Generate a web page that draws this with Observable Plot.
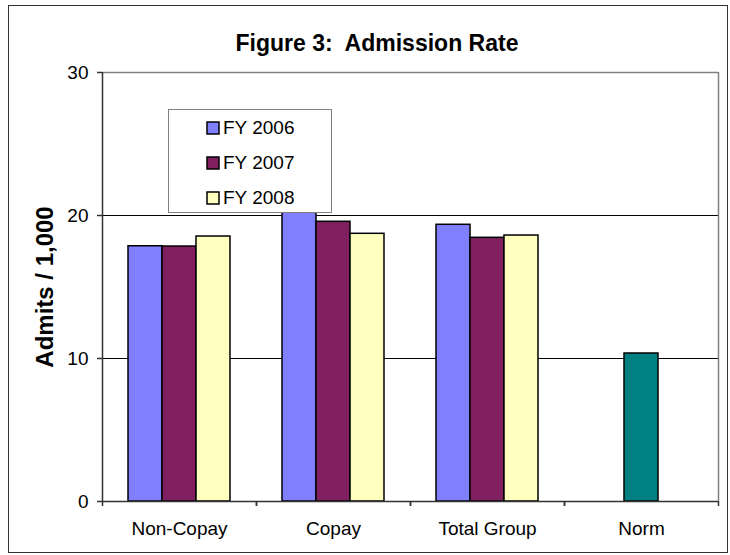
<!DOCTYPE html>
<html>
<head>
<meta charset="utf-8">
<script src="https://cdn.jsdelivr.net/npm/d3@7"></script>
<script src="https://cdn.jsdelivr.net/npm/@observablehq/plot@0.6"></script>
<style>
  html, body { margin: 0; padding: 0; background: #fff; }
  #chart { position: relative; width: 730px; height: 555px; background: #fff;
           font-family: "Liberation Sans", Arial, sans-serif; color: #000; }
  #plot { position: absolute; left: 0; top: 0; }
  #border { position: absolute; left: 8px; top: 5px; width: 720px; height: 548px;
            border: 1.5px solid #333; box-sizing: border-box; pointer-events: none; }
  #title { position: absolute; left: 377px; top: 32px; transform: translateX(-50%);
           font-weight: bold; font-size: 23px; line-height: 23px; white-space: nowrap; }
  #legend { position: absolute; left: 168px; top: 109px; width: 164px; height: 104px;
            border: 1px solid #808080; background: #fff; box-sizing: border-box;
            padding-left: 38px; }
  #legend .lg-swatches { margin: 0 !important; }
  #legend .lg-swatch { height: 35px; padding: 0 !important; margin: 0 !important; display: flex; align-items: center; }
  #legend .lg-swatch > svg { margin-right: 4px !important; overflow: visible; }
  #legend .lg-swatch svg rect { stroke: #000; stroke-width: 1.5px; }
  #plot g[aria-label="y-axis label"] text { font-weight: bold; font-size: 24px; }
</style>
</head>
<body>
<div id="chart">
  <div id="plot"></div>
  <div id="title">Figure 3:&nbsp; Admission Rate</div>
  <div id="legend"></div>
  <div id="border"></div>
</div>
<script>
// ---- data ----
const groupCategories = ["Non-Copay", "Copay", "Total Group"];
const normCategory = "Norm";
const categories = [...groupCategories, normCategory];
const series = ["FY 2006", "FY 2007", "FY 2008"];
const fy2006 = [17.85, 20.3, 19.35];
const fy2007 = [17.83, 19.56, 18.44];
const fy2008 = [18.53, 18.72, 18.60];
const normValue = 10.35;
const yTicks = [0, 10, 20, 30];
const yTitle = "Admits / 1,000";

// ---- styles ----
const seriesFill = ["#8080FF", "#802060", "#FFFFC0"];
const normFill = "#008080";
const font = "'Liberation Sans', Arial, sans-serif";

// ---- table ----
const seriesValues = [fy2006, fy2007, fy2008];
const rows = [];
groupCategories.forEach((c, i) => {
  series.forEach((s, j) => rows.push({category: c, series: s, slot: j, value: seriesValues[j][i]}));
});
rows.push({category: normCategory, series: normCategory, slot: (series.length - 1) / 2, value: normValue});

const pad = 0.765; // outer gap on each side of a group, in bar widths
const yMax = yTicks[yTicks.length - 1];

const chart = Plot.plot({
  width: 730,
  height: 555,
  marginLeft: 101,
  marginRight: 12,
  marginTop: 72,
  marginBottom: 54,
  style: {fontFamily: font, fontSize: "19px", color: "#000", background: "transparent", overflow: "visible"},
  fx: {domain: categories, padding: 0},
  x: {type: "linear", domain: [-pad, series.length + pad]},
  y: {domain: [0, yMax]},
  color: {domain: [...series, normCategory], range: [...seriesFill, normFill]},
  marks: [
    Plot.ruleY(yTicks.filter(t => t > 0 && t < yMax), {stroke: "#000", strokeWidth: 1}),
    Plot.ruleY([yMax], {stroke: "#808080", strokeWidth: 1.5}),
    Plot.rectY(rows, {fx: "category", x1: "slot", x2: d => d.slot + 1, y1: 0, y2: "value",
                      fill: "series", stroke: "#000", strokeWidth: 1.5}),
    Plot.ruleY([0], {stroke: "#333", strokeWidth: 1.5}),
    Plot.ruleX([-pad], {fx: [categories[0]], y1: 0, y2: yMax, stroke: "#333", strokeWidth: 1.5}),
    Plot.ruleX([series.length + pad], {fx: [categories[categories.length - 1]], y1: 0, y2: yMax, stroke: "#808080", strokeWidth: 1.5}),
    Plot.axisX({ticks: [-pad, series.length + pad], tickSize: 5, tickFormat: () => "", label: null, stroke: "#333", strokeWidth: 1.5}),
    Plot.axisFx({anchor: "bottom", tickSize: 0, tickPadding: 20, label: null}),
    Plot.axisY({ticks: yTicks, tickSize: 5, tickPadding: 9, stroke: "#333", strokeWidth: 1.5,
                label: yTitle, labelAnchor: "center", labelArrow: "none", labelOffset: 67})
  ]
});
document.getElementById("plot").appendChild(chart);

const legend = Plot.legend({
  color: {type: "ordinal", domain: series, range: seriesFill},
  columns: 1,
  swatchSize: 12,
  className: "lg",
  style: {fontFamily: font, fontSize: "19px", color: "#000"}
});
document.getElementById("legend").appendChild(legend);
</script>
</body>
</html>
